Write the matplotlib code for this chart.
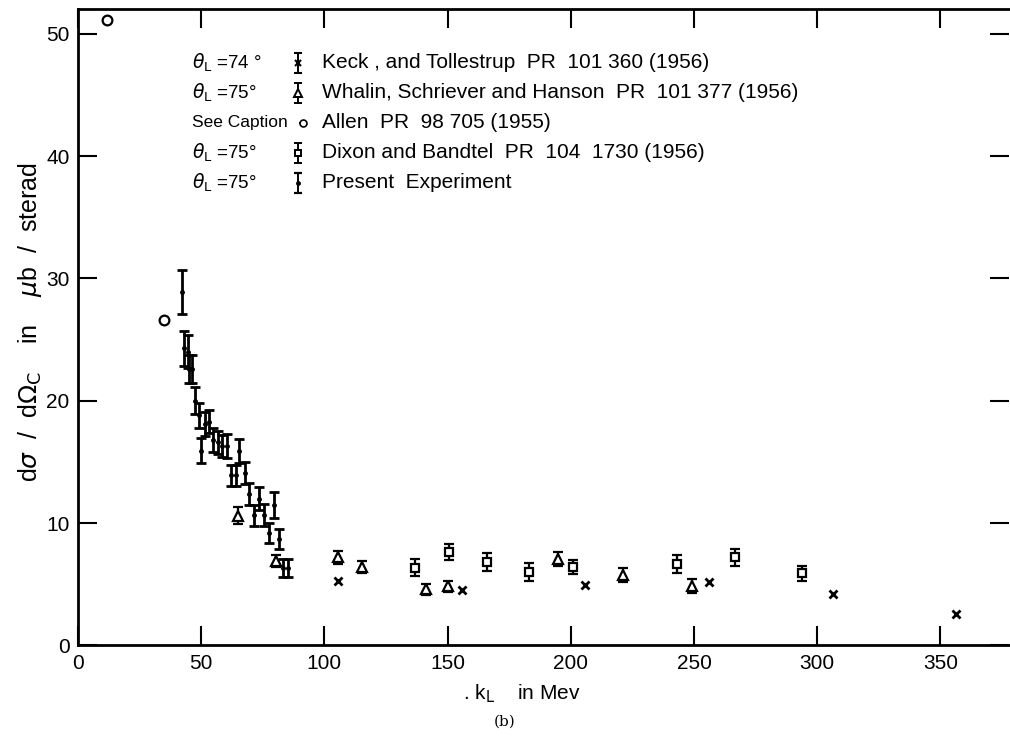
import numpy as np
import matplotlib
matplotlib.use('Agg')
import matplotlib.pyplot as plt

plt.rcParams['font.family'] = ['Liberation Sans', 'DejaVu Sans']
plt.rcParams['mathtext.fontset'] = 'dejavusans'

# present experiment (theta_L = 75 deg)
pres_k = [42.1, 42.9, 44.5, 45.2, 46.4, 47.5, 49.1, 50.1, 51.5, 53.3, 54.9, 56.7, 58.3, 60.3,
          62.0, 64.0, 65.5, 67.8, 69.5, 71.4, 73.3, 75.5, 77.5, 79.5, 81.6, 83.3, 85.4]
pres_y = [28.9, 24.3, 24.0, 22.6, 22.6, 20.0, 18.8, 15.9, 18.1, 18.3, 16.8, 16.6, 16.3, 16.3,
          13.9, 13.9, 15.9, 14.1, 12.4, 10.65, 12.0, 10.7, 9.2, 11.5, 8.7, 6.3, 6.3]
pres_err = [1.77, 1.43, 1.35, 1.13, 1.13, 1.09, 1.03, 1.02, 0.95, 0.95, 1.0, 0.93, 0.93, 0.95,
            0.85, 0.85, 0.98, 0.9, 0.9, 0.86, 0.93, 0.9, 0.82, 1.05, 0.8, 0.74, 0.74]

# Whalin, Schriever and Hanson
wha_k = [65.1, 80.4, 105.6, 115.1, 141.2, 150.3, 194.7, 221.0, 249.1]
wha_y = [10.6, 6.9, 7.2, 6.4, 4.6, 4.85, 7.1, 5.75, 4.85]
wha_err = [0.69, 0.5, 0.54, 0.48, 0.44, 0.45, 0.57, 0.54, 0.58]

# Dixon and Bandtel
dix_k = [136.8, 150.7, 166.0, 182.9, 200.9, 243.0, 266.6, 293.7]
dix_y = [6.35, 7.6, 6.85, 6.0, 6.4, 6.65, 7.2, 5.9]
dix_err = [0.68, 0.65, 0.73, 0.71, 0.6, 0.75, 0.72, 0.63]

# Keck and Tollestrup
keck_k = [105.6, 156.0, 205.8, 256.2, 306.3, 356.3]
keck_y = [5.3, 4.5, 4.93, 5.15, 4.2, 2.57]

# Allen
allen_k = [11.8, 34.9]
allen_y = [51.1, 26.6]

x_ticks = [0, 50, 100, 150, 200, 250, 300, 350]
y_ticks = [0, 10, 20, 30, 40, 50]

legend_left = [r'$\theta_{\rm L}$ =74 °', r'$\theta_{\rm L}$ =75°', 'See Caption',
               r'$\theta_{\rm L}$ =75°', r'$\theta_{\rm L}$ =75°']
legend_right = ['Keck , and Tollestrup  PR  101 360 (1956)',
                'Whalin, Schriever and Hanson  PR  101 377 (1956)',
                'Allen  PR  98 705 (1955)',
                'Dixon and Bandtel  PR  104  1730 (1956)',
                'Present  Experiment']

W, H = 1010, 738
x0, y0 = 78, 645.4   # pixel position of the origin
axw, axh = 931, 636.1

fig = plt.figure(figsize=(W / 100, H / 100), dpi=100)
ax = fig.add_axes([x0 / W, 1 - y0 / H, axw / W, axh / H])
ax.set_xlim(0, 377.8)
ax.set_ylim(0, 52)

ax.errorbar(pres_k, pres_y, yerr=pres_err, fmt='o', ms=2.5, color='k',
            elinewidth=2, capsize=3.5, capthick=2)
ax.errorbar(wha_k, wha_y, yerr=wha_err, fmt='^', ms=7, mfc='white', mec='k', mew=1.6,
            color='k', elinewidth=1.6, capsize=3.5, capthick=2)
ax.errorbar(dix_k, dix_y, yerr=dix_err, fmt='s', ms=6, mfc='white', mec='k', mew=1.6,
            color='k', elinewidth=1.6, capsize=3.5, capthick=2)
ax.plot(keck_k, keck_y, 'x', ms=6, mew=2, color='k')
ax.plot(allen_k, allen_y, 'o', ms=7, mfc='none', mec='k', mew=1.6)

ax.set_xticks(x_ticks)
ax.set_yticks(y_ticks)
ax.tick_params(direction='in', length=14, width=1.5, top=True, right=True,
               labelsize=15, pad=6)
for s in ['left', 'bottom', 'top']:
    ax.spines[s].set_linewidth(2)
ax.spines['right'].set_visible(False)


def fx(px):
    return (px - x0) / axw


def fy(py):
    return (y0 - py) / axh


# hand drawn legend block
styles = [dict(fmt='x', ms=5, mew=1.5),
          dict(fmt='^', ms=6, mfc='white', mew=1.4),
          dict(fmt='o', ms=5, mfc='white', mew=1.2),
          dict(fmt='s', ms=5, mfc='white', mew=1.4),
          dict(fmt='o', ms=2.5)]
for i in range(5):
    py = 63 + 30 * i
    ax.text(fx(192), fy(py), legend_left[i], transform=ax.transAxes,
            fontsize=12.5 if i == 2 else 13.5, ha='left', va='center')
    ax.text(fx(322), fy(py), legend_right[i], transform=ax.transAxes, fontsize=15,
            ha='left', va='center')
    yerr = 0 if i == 2 else 10 / axh
    mx = 303 if i == 2 else 298
    ax.errorbar([fx(mx)], [fy(py)], yerr=yerr, transform=ax.transAxes, color='k',
                mec='k', elinewidth=1.4, capsize=3, capthick=1.6, clip_on=False,
                **styles[i])

fig.text(30 / W, 1 - 322 / H,
         r'd$\sigma$  /  d$\Omega_{\rm C}$    in    $\mu$b  /  sterad',
         rotation=90, fontsize=18, ha='center', va='center')
fig.text(522 / W, 1 - 694 / H, r'. k$_{\rm L}$    in Mev', fontsize=15,
         ha='center', va='center')
fig.text(505 / W, 1 - 722 / H, '(b)', fontsize=11, family='DejaVu Serif',
         ha='center', va='center')

fig.savefig('out.png', dpi=100)
